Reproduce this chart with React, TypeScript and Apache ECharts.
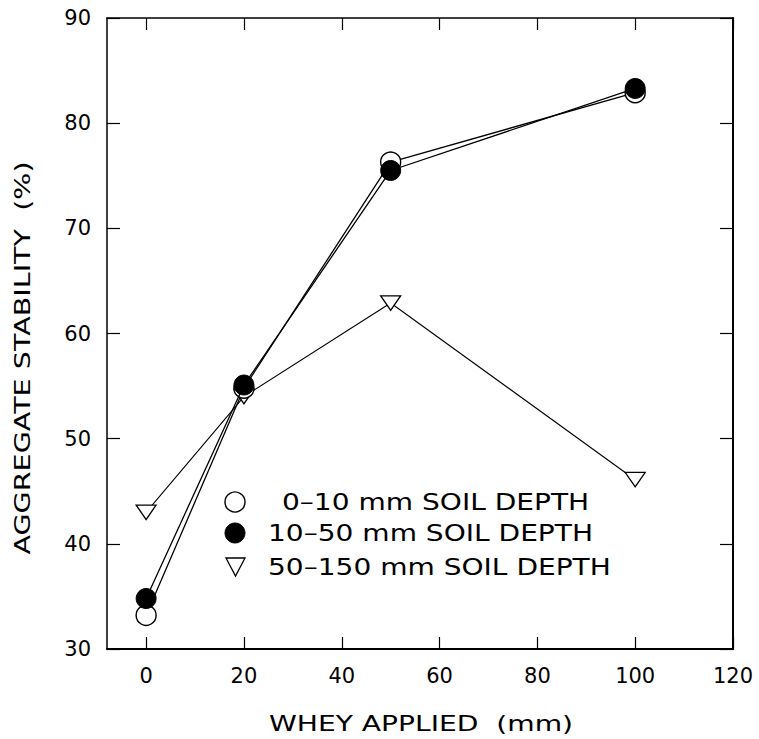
import React, { useEffect, useRef } from "react";
import * as echarts from "echarts";

const wheyApplied = [0, 20, 50, 100];
const depth0to10 = [33.2, 54.8, 76.3, 82.9];
const depth10to50 = [34.8, 55.1, 75.5, 83.3];
const depth50to150 = [43.0, 54.0, 62.9, 46.1];
const xTicks = [0, 20, 40, 60, 80, 100, 120];
const seriesNames = ["0–10 mm SOIL DEPTH", "10–50 mm SOIL DEPTH", "50–150 mm SOIL DEPTH"];
const xTitle = "WHEY APPLIED  (mm)";
const yTitle = "AGGREGATE STABILITY  (%)";

const FONT = "DejaVu Sans";
const TRI = "path://M0,0 L20,0 L10,17 Z";

const pairs = (ys: number[]) => wheyApplied.map((x, i) => [x, ys[i]]);

export default function App() {
  const ref = useRef<HTMLDivElement>(null);
  useEffect(() => {
    if (!ref.current) return;
    const chart = echarts.init(ref.current, null, { renderer: "svg" });
    const tickCommon = {
      inside: true,
      length: 12,
      lineStyle: { color: "#000", width: 1.2 },
    };
    const legendText = (text: string, x: number, y: number) => ({
      type: "text",
      x,
      y,
      scaleX: 1.22,
      style: { text, fontSize: 23, fontFamily: FONT, fill: "#000", align: "left", verticalAlign: "middle" },
    });
    chart.setOption({
      animation: false,
      backgroundColor: "#fff",
      textStyle: { fontFamily: FONT, color: "#000" },
      grid: { left: 107, top: 18, right: 26, bottom: 90, outerBoundsMode: "none", containLabel: false },
      xAxis: [
        {
          type: "value",
          min: -8,
          max: 120,
          position: "bottom",
          splitLine: { show: false },
          axisLine: { onZero: false, lineStyle: { color: "#000", width: 2 } },
          axisTick: { ...tickCommon, customValues: xTicks },
          axisLabel: { customValues: xTicks, fontSize: 21, color: "#000", fontFamily: FONT, margin: 16 },
        },
        {
          type: "value",
          min: -8,
          max: 120,
          position: "top",
          splitLine: { show: false },
          axisLine: { onZero: false, lineStyle: { color: "#000", width: 1.5 } },
          axisTick: { ...tickCommon, customValues: xTicks },
          axisLabel: { show: false },
        },
      ],
      yAxis: [
        {
          type: "value",
          min: 30,
          max: 90,
          interval: 10,
          position: "left",
          splitLine: { show: false },
          axisLine: { show: true, onZero: false, lineStyle: { color: "#000", width: 1.5 } },
          axisTick: { ...tickCommon, length: 13 },
          axisLabel: { fontSize: 21, color: "#000", fontFamily: FONT, margin: 16 },
        },
        {
          type: "value",
          min: 30,
          max: 90,
          interval: 10,
          position: "right",
          splitLine: { show: false },
          axisLine: { show: true, onZero: false, lineStyle: { color: "#000", width: 2 } },
          axisTick: { ...tickCommon, length: 13 },
          axisLabel: { show: false },
        },
      ],
      graphic: [
        {
          type: "text",
          x: 22,
          y: 358,
          rotation: Math.PI / 2,
          scaleX: 1.3,
          style: { text: yTitle, fontSize: 22, fontFamily: FONT, fill: "#000", align: "center", verticalAlign: "middle" },
        },
        {
          type: "text",
          x: 421,
          y: 724,
          scaleX: 1.28,
          style: { text: xTitle, fontSize: 22, fontFamily: FONT, fill: "#000", align: "center", verticalAlign: "middle" },
        },
        {
          type: "circle",
          shape: { cx: 235, cy: 502, r: 10 },
          style: { fill: "#fff", stroke: "#000", lineWidth: 1.4 },
        },
        legendText(seriesNames[0], 282, 502),
        {
          type: "circle",
          shape: { cx: 235, cy: 533, r: 10 },
          style: { fill: "#000", stroke: "#000", lineWidth: 1 },
        },
        legendText(seriesNames[1], 268, 533),
        {
          type: "polygon",
          shape: { points: [[226, 558], [245, 558], [235.5, 576]] },
          style: { fill: "#fff", stroke: "#000", lineWidth: 1.3 },
        },
        legendText(seriesNames[2], 268, 567),
      ],
      series: [
        {
          name: seriesNames[2],
          type: "line",
          data: pairs(depth50to150),
          symbol: TRI,
          symbolSize: [20, 17],
          symbolKeepAspect: true,
          lineStyle: { color: "#000", width: 1.1 },
          itemStyle: { color: "#fff", borderColor: "#000", borderWidth: 1.3 },
          z: 2,
        },
        {
          name: seriesNames[0],
          type: "line",
          data: pairs(depth0to10),
          symbol: "circle",
          symbolSize: 20,
          lineStyle: { color: "#000", width: 1.3 },
          itemStyle: { color: "#fff", borderColor: "#000", borderWidth: 1.4 },
          z: 3,
        },
        {
          name: seriesNames[1],
          type: "line",
          data: pairs(depth10to50),
          symbol: "circle",
          symbolSize: 20,
          lineStyle: { color: "#000", width: 1.3 },
          itemStyle: { color: "#000", borderColor: "#000", borderWidth: 1 },
          z: 4,
        },
      ],
    });
    return () => chart.dispose();
  }, []);
  return <div ref={ref} style={{ width: 759, height: 739, position: "fixed", left: 0, top: 0 }} />;
}
